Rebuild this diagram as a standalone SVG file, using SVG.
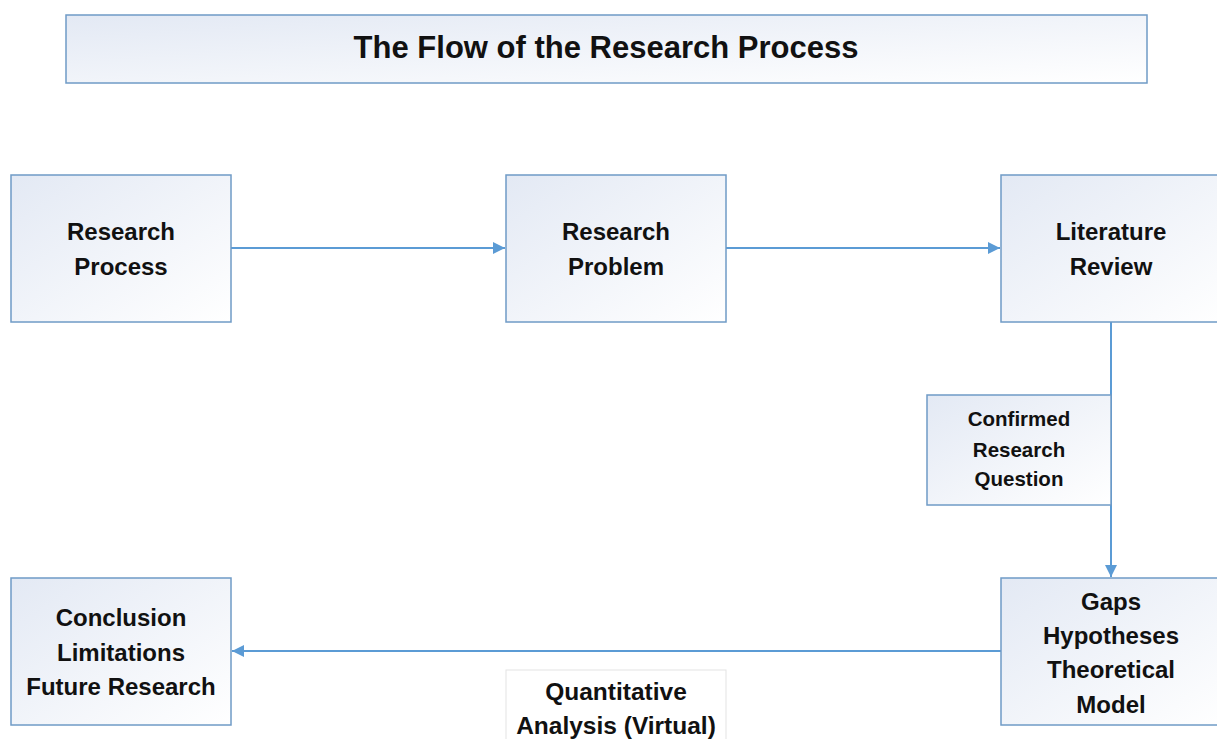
<svg xmlns="http://www.w3.org/2000/svg" width="1217" height="739" viewBox="0 0 1217 739">
<defs>
<linearGradient id="g" x1="0" y1="0" x2="1" y2="1">
<stop offset="0" stop-color="#e3e9f4"/>
<stop offset="1" stop-color="#ffffff"/>
</linearGradient>
<marker id="ah" markerWidth="12" markerHeight="12" viewBox="0 0 12 12" refX="12" refY="6" orient="auto" markerUnits="userSpaceOnUse">
<path d="M0,0 L12,6 L0,12 Z" fill="#5b9bd5"/>
</marker>
<style>
.box{fill:url(#g);stroke:#6f9bc6;stroke-width:1.5}
.t{font-family:"Liberation Sans",Arial,sans-serif;font-weight:bold;font-size:24px;fill:#111;text-anchor:middle}
.s{font-size:20.5px}
.c{fill:none;stroke:#5b9bd5;stroke-width:2}
</style>
</defs>
<rect width="1217" height="739" fill="#ffffff"/>
<g id="title">
<rect class="box" x="66" y="15" width="1081" height="68"/>
<text class="t" x="606" y="58" style="font-size:31px">The Flow of the Research Process</text>
</g>
<g id="connectors">
<line class="c" x1="231" y1="248" x2="505" y2="248" marker-end="url(#ah)"/>
<line class="c" x1="726" y1="248" x2="1000" y2="248" marker-end="url(#ah)"/>
<line class="c" x1="1111" y1="322" x2="1111" y2="577" marker-end="url(#ah)"/>
<line class="c" x1="1001" y1="651" x2="232" y2="651" marker-end="url(#ah)"/>
</g>
<g id="research-process">
<rect class="box" x="11" y="175" width="220" height="147"/>
<text class="t" x="121" y="240">Research</text>
<text class="t" x="121" y="275">Process</text>
</g>
<g id="research-problem">
<rect class="box" x="506" y="175" width="220" height="147"/>
<text class="t" x="616" y="240">Research</text>
<text class="t" x="616" y="275">Problem</text>
</g>
<g id="literature-review">
<rect class="box" x="1001" y="175" width="225" height="147"/>
<text class="t" x="1111" y="240">Literature</text>
<text class="t" x="1111" y="275">Review</text>
</g>
<g id="confirmed-question">
<rect class="box" x="927" y="395" width="184" height="110"/>
<text class="t s" x="1019" y="426">Confirmed</text>
<text class="t s" x="1019" y="457">Research</text>
<text class="t s" x="1019" y="486">Question</text>
</g>
<g id="gaps">
<rect class="box" x="1001" y="578" width="225" height="147"/>
<text class="t" x="1111" y="610">Gaps</text>
<text class="t" x="1111" y="644">Hypotheses</text>
<text class="t" x="1111" y="678">Theoretical</text>
<text class="t" x="1111" y="713">Model</text>
</g>
<g id="conclusion">
<rect class="box" x="11" y="578" width="220" height="147"/>
<text class="t" x="121" y="626">Conclusion</text>
<text class="t" x="121" y="661">Limitations</text>
<text class="t" x="121" y="695">Future Research</text>
</g>
<g id="quantitative">
<rect x="506" y="670" width="220" height="80" fill="#ffffff" stroke="#e3e3e3" stroke-width="1"/>
<text class="t" x="616" y="700" style="font-size:24.5px">Quantitative</text>
<text class="t" x="616" y="734" style="font-size:24.5px">Analysis (Virtual)</text>
</g>
</svg>
